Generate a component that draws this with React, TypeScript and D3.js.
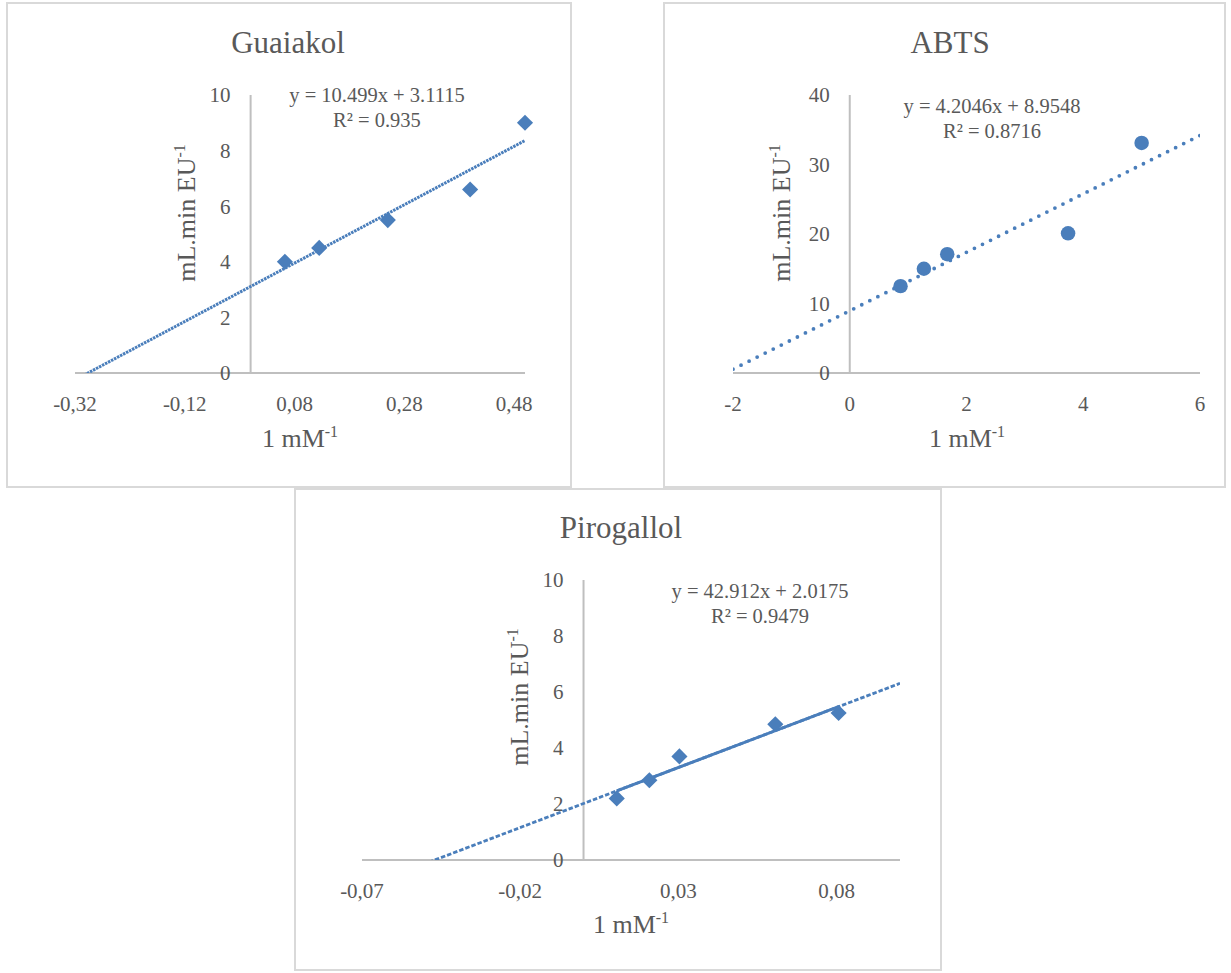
import * as d3 from "d3";

// Lineweaver-Burk points
const guaiakolX = [0.0625, 0.125, 0.25, 0.4, 0.5];
const guaiakolY = [4.0, 4.5, 5.5, 6.6, 9.0];
const abtsX = [0.87, 1.27, 1.67, 3.74, 5.0];
const abtsY = [12.5, 15.0, 17.1, 20.1, 33.1];
const pirogallolX = [0.0105, 0.0208, 0.0303, 0.0606, 0.0806];
const pirogallolY = [2.2, 2.85, 3.7, 4.85, 5.25];

// trendline coefficients as printed on the charts
const slopes = [10.499, 4.2046, 42.912];
const intercepts = [3.1115, 8.9548, 2.0175];
const equations = ["y = 10.499x + 3.1115", "y = 4.2046x + 8.9548", "y = 42.912x + 2.0175"];
const rSquared = ["R² = 0.935", "R² = 0.8716", "R² = 0.9479"];

const titles = ["Guaiakol", "ABTS", "Pirogallol"];
const guaiakolXTicks = [-0.32, -0.12, 0.08, 0.28, 0.48];
const abtsXTicks = [-2, 0, 2, 4, 6];
const pirogallolXTicks = [-0.07, -0.02, 0.03, 0.08];
const guaiakolYTicks = [0, 2, 4, 6, 8, 10];
const abtsYTicks = [0, 10, 20, 30, 40];
const pirogallolYTicks = [0, 2, 4, 6, 8, 10];

const BLUE = "#4a7ebb";
const TEXT = "#595959";
const FONT = "'Liberation Serif', 'Times New Roman', serif";

const locale = d3.formatLocale({ decimal: ",", thousands: ".", grouping: [3], currency: ["", ""], minus: "-" });
const fmt2 = locale.format(".2f");
const fmtInt = locale.format("d");

const panels = [
  {
    id: "g", box: [7, 3, 564, 484], xr: [75, 525], yr: [373, 95],
    xd: [-0.32, 0.5], yd: [0, 10], xs: guaiakolX, ys: guaiakolY,
    xt: guaiakolXTicks, yt: guaiakolYTicks, fx: fmt2, marker: "diamond",
    title: [288, 53], eq: [377, 102], xTitle: [300, 447], yTitle: [186, 213],
    trends: [{ from: -0.32, to: 0.5, dash: "2.5 0.9", w: 3 }],
  },
  {
    id: "a", box: [664, 3, 561, 484], xr: [733, 1200], yr: [373, 95],
    xd: [-2, 6], yd: [0, 40], xs: abtsX, ys: abtsY,
    xt: abtsXTicks, yt: abtsYTicks, fx: fmtInt, marker: "circle",
    title: [950, 53], eq: [992, 113], xTitle: [967, 447], yTitle: [781, 213],
    trends: [{ from: -2, to: 6, dash: "0 9", w: 3.8, round: true }],
  },
  {
    id: "p", box: [295, 489, 646, 481], xr: [362, 900], yr: [860, 580],
    xd: [-0.07, 0.1], yd: [0, 10], xs: pirogallolX, ys: pirogallolY,
    xt: pirogallolXTicks, yt: pirogallolYTicks, fx: fmt2, marker: "diamond",
    title: [621, 538], eq: [760, 598], xTitle: [631, 933], yTitle: [519, 697],
    trends: [
      { from: -0.07, to: 0.1, dash: "4.5 2", w: 2.8 },
      { from: pirogallolX[0], to: pirogallolX[4], dash: null, w: 3 },
    ],
  },
];

const diamond = d3.symbol().type(d3.symbolSquare).size(130)();
const circle = d3.symbol().type(d3.symbolCircle).size(165)();

function Panel({ p, i }: { p: any; i: number }) {
  const x = d3.scaleLinear().domain(p.xd).range(p.xr);
  const y = d3.scaleLinear().domain(p.yd).range(p.yr);
  const line = d3.line<number>().x((v) => x(v)).y((v) => y(slopes[i] * v + intercepts[i]));
  const [bx, by, bw, bh] = p.box;
  const clipId = `clip-${p.id}`;

  return (
    <g>
      <rect x={bx} y={by} width={bw} height={bh} fill="white" stroke="#d9d9d9" strokeWidth={2} />
      <defs>
        <clipPath id={clipId}>
          <rect x={p.xr[0]} y={p.yr[1]} width={p.xr[1] - p.xr[0]} height={p.yr[0] - p.yr[1]} />
        </clipPath>
      </defs>
      <text x={p.title[0]} y={p.title[1]} textAnchor="middle" fontSize={31} fill={TEXT}>{titles[i]}</text>

      <line x1={p.xr[0]} x2={p.xr[1]} y1={y(0)} y2={y(0)} stroke="#bfbfbf" strokeWidth={2} />
      <line x1={x(0)} x2={x(0)} y1={y(0)} y2={y(p.yd[1])} stroke="#bfbfbf" strokeWidth={2} />

      {p.xt.map((t: number) => (
        <text key={t} x={x(t)} y={y(0) + 38} textAnchor="middle" fontSize={21} fill={TEXT}>{p.fx(t)}</text>
      ))}
      {p.yt.map((t: number) => (
        <text key={t} x={x(0) - 20} y={y(t)} dy="0.35em" textAnchor="end" fontSize={21} fill={TEXT}>{fmtInt(t)}</text>
      ))}

      <g clipPath={`url(#${clipId})`}>
        {p.trends.map((tr: any, k: number) => (
          <path key={k} d={line([tr.from, tr.to]) || ""} fill="none" stroke={BLUE}
            strokeWidth={tr.w}
            strokeLinecap={tr.round ? "round" : "butt"}
            strokeDasharray={tr.dash || undefined} />
        ))}
      </g>

      {p.xs.map((v: number, k: number) => (
        <path key={k} d={p.marker === "diamond" ? diamond : circle} fill={BLUE}
          transform={`translate(${x(v)},${y(p.ys[k])})${p.marker === "diamond" ? " rotate(45)" : ""}`} />
      ))}

      <text x={p.eq[0]} y={p.eq[1]} textAnchor="middle" fontSize={20.5} fill={TEXT}>{equations[i]}</text>
      <text x={p.eq[0]} y={p.eq[1] + 25} textAnchor="middle" fontSize={20.5} fill={TEXT}>{rSquared[i]}</text>

      <text x={p.xTitle[0]} y={p.xTitle[1]} textAnchor="middle" fontSize={26} fill={TEXT}>
        1 mM<tspan fontSize={16} dy={-10}>-1</tspan>
      </text>
      <text transform={`translate(${p.yTitle[0]},${p.yTitle[1]}) rotate(-90)`} dy="0.35em" textAnchor="middle" fontSize={26} fill={TEXT}>
        mL.min EU<tspan fontSize={16} dy={-10}>-1</tspan>
      </text>
    </g>
  );
}

export default function App() {
  return (
    <div style={{ position: "absolute", left: 0, top: 0 }}>
      <svg width={1231} height={973} style={{ display: "block", background: "white", fontFamily: FONT }}>
        {panels.map((p, i) => <Panel key={p.id} p={p} i={i} />)}
      </svg>
    </div>
  );
}
